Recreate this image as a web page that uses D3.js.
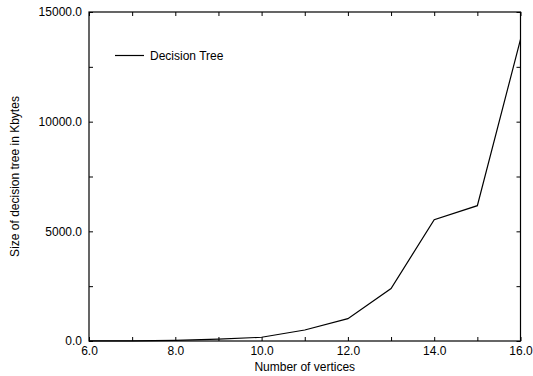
<!DOCTYPE html>
<html>
<head>
<meta charset="utf-8">
<script src="https://cdn.jsdelivr.net/npm/d3@7"></script>
<style>
  body { margin: 0; background: #fff; }
  svg text { font-family: "Liberation Sans", Arial, sans-serif; font-size: 12px; fill: #000; }
</style>
</head>
<body>
<div id="chart"></div>
<script>
// number of vertices vs decision tree size (Kbytes)
const vertices = [6, 7, 8, 9, 10, 11, 12, 13, 14, 15, 16];
const treeSize = [5, 10, 30, 90, 170, 500, 1020, 2390, 5530, 6170, 13750];
const xTicks = [6, 7, 8, 9, 10, 11, 12, 13, 14, 15, 16];
const yTicks = [0, 2500, 5000, 7500, 10000, 12500, 15000];
const seriesName = 'Decision Tree';

const W = 533, H = 376;
const margin = { top: 12, right: 12.5, bottom: 35, left: 89 },
  width = W - margin.left - margin.right,
  height = H - margin.top - margin.bottom;

const x = d3.scaleLinear().domain([6, 16]).range([0, width]);
const y = d3.scaleLinear().domain([0, 15000]).range([height, 0]);

const svg = d3.select('#chart').append('svg')
  .attr('width', W).attr('height', H);

const chart = svg.append('g')
  .attr('transform', 'translate(' + margin.left + ',' + margin.top + ')');

// frame
chart.append('rect')
  .attr('width', width).attr('height', height)
  .attr('fill', 'none').attr('stroke', '#000').attr('stroke-width', 1.2);

const fmt = d3.format('.1f');

// bottom axis, labels every 2
chart.append('g')
  .attr('transform', 'translate(0,' + height + ')')
  .call(d3.axisBottom(x).tickValues(xTicks).tickSize(-4)
    .tickFormat(d => d % 2 === 0 ? fmt(d) : ''))
  .call(g => g.select('.domain').remove())
  .call(g => g.selectAll('text').attr('y', 5).attr('dy', '0.71em'));

// top mirror ticks
chart.append('g')
  .call(d3.axisTop(x).tickValues(xTicks).tickSize(-4).tickFormat(''))
  .call(g => g.select('.domain').remove());

// left axis, labels every 5000
chart.append('g')
  .call(d3.axisLeft(y).tickValues(yTicks).tickSize(-4)
    .tickFormat(d => d % 5000 === 0 ? fmt(d) : ''))
  .call(g => g.select('.domain').remove())
  .call(g => g.selectAll('text').attr('x', -7));

// right mirror ticks
chart.append('g')
  .attr('transform', 'translate(' + width + ',0)')
  .call(d3.axisRight(y).tickValues(yTicks).tickSize(-4).tickFormat(''))
  .call(g => g.select('.domain').remove());

chart.selectAll('.tick line').attr('stroke', '#000');
chart.selectAll('.tick text').style('font-size', '12px');

// data line
const line = d3.line()
  .x((d, i) => x(vertices[i]))
  .y(d => y(d));

chart.append('path')
  .datum(treeSize)
  .attr('fill', 'none')
  .attr('stroke', '#000')
  .attr('stroke-width', 1.2)
  .attr('d', line);

// legend
const legend = chart.append('g').attr('transform', 'translate(26,43.5)');
legend.append('line')
  .attr('x1', 0).attr('x2', 29)
  .attr('stroke', '#000').attr('stroke-width', 1.2);
legend.append('text')
  .attr('x', 35).attr('dy', '0.35em')
  .text(seriesName);

// axis titles
svg.append('text')
  .attr('x', margin.left + width / 2).attr('y', 371)
  .attr('text-anchor', 'middle')
  .text('Number of vertices');

svg.append('text')
  .attr('transform', 'translate(19,' + (margin.top + height / 2) + ') rotate(-90)')
  .attr('text-anchor', 'middle')
  .text('Size of decision tree in Kbytes');
</script>
</body>
</html>
